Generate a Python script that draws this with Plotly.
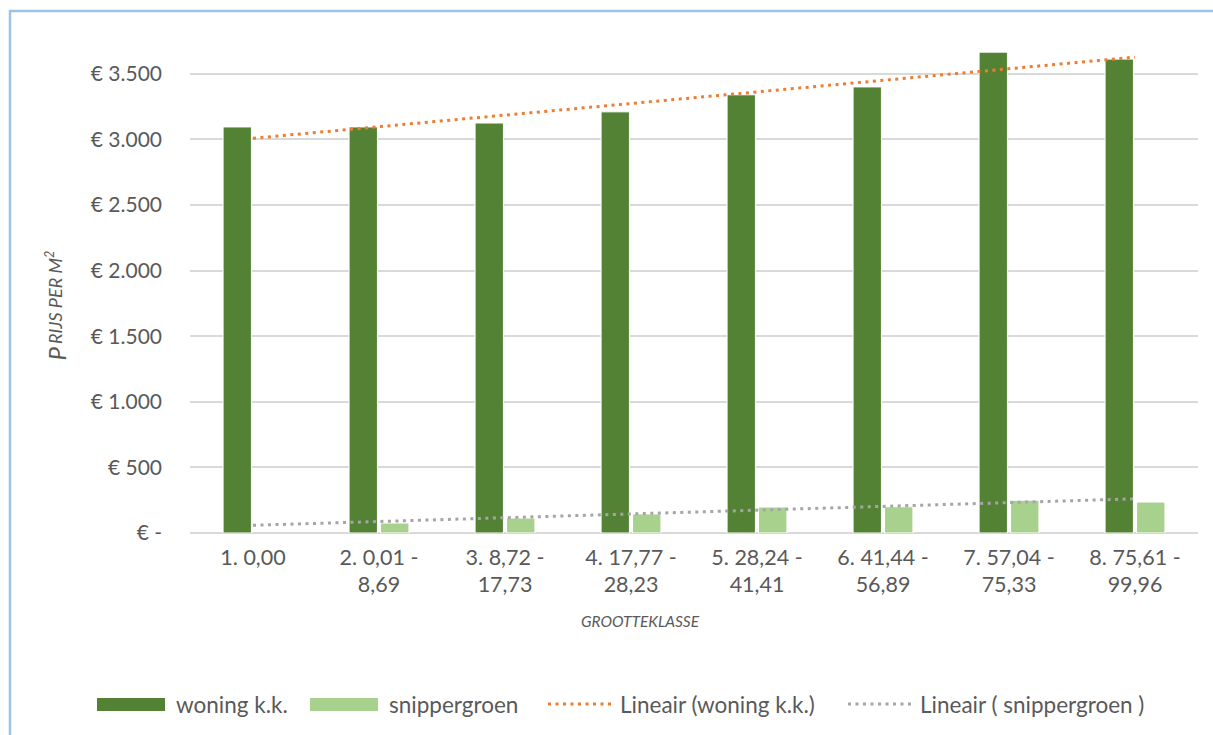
import numpy as np
import plotly.graph_objects as go

# Size classes (grootteklasse) and price per m² per class
categories = [
    "1. 0,00",
    "2. 0,01 -<br>8,69",
    "3. 8,72 -<br>17,73",
    "4. 17,77 -<br>28,23",
    "5. 28,24 -<br>41,41",
    "6. 41,44 -<br>56,89",
    "7. 57,04 -<br>75,33",
    "8. 75,61 -<br>99,96",
]
woning_kk = [3095, 3095, 3125, 3210, 3340, 3400, 3665, 3612]
snippergroen = [None, 76, 114, 145, 198, 200, 250, 236]

tick_values = [0, 500, 1000, 1500, 2000, 2500, 3000, 3500]
tick_labels = ["€ -", "€ 500", "€ 1.000", "€ 1.500", "€ 2.000", "€ 2.500", "€ 3.000", "€ 3.500"]

legend_names = ["woning k.k.", "snippergroen", "Lineair (woning k.k.)", "Lineair ( snippergroen )"]

DARK_GREEN = "#548235"
LIGHT_GREEN = "#A9D18E"
ORANGE = "#ED7D31"
GREY = "#A5A5A5"
TEXT = "#595959"
FONT = "Lato"

W, H = 1213, 735
ML, MR, MT, MB = 190, 15, 41, 202
PW, PH = W - ML - MR, H - MT - MB


def px_x(px):
    return (px - ML) / PW


def px_y(py):
    return (H - MB - py) / PH


def linear_trend(values):
    # least-squares line over the class index (1..n), skipping empty cells
    idx = np.arange(1, len(values) + 1)
    pts = [(i, v) for i, v in zip(idx, values) if v is not None]
    xs, ys = zip(*pts)
    slope, intercept = np.polyfit(xs, ys, 1)
    return list(slope * idx + intercept)


fig = go.Figure()
fig.add_bar(x=categories, y=woning_kk, name=legend_names[0],
            marker=dict(color=DARK_GREEN, line=dict(color="white", width=1)),
            showlegend=False)
fig.add_bar(x=categories, y=snippergroen, name=legend_names[1],
            marker=dict(color=LIGHT_GREEN, line=dict(color="white", width=1)),
            showlegend=False)
fig.add_scatter(x=categories, y=linear_trend(woning_kk), mode="lines",
                name=legend_names[2], showlegend=False,
                line=dict(color=ORANGE, width=3, dash="3px,4.5px"))
fig.add_scatter(x=categories, y=linear_trend(snippergroen), mode="lines",
                name=legend_names[3], showlegend=False,
                line=dict(color=GREY, width=3, dash="3px,4.5px"))

shapes = [
    # chart frame
    dict(type="rect", xref="paper", yref="paper", layer="above",
         x0=px_x(10), x1=px_x(W + 20), y0=px_y(H + 20), y1=px_y(11),
         line=dict(color="#9DC3E6", width=2.5), fillcolor="rgba(0,0,0,0)"),
    # legend symbols
    dict(type="rect", xref="paper", yref="paper", x0=px_x(97), x1=px_x(165),
         y0=px_y(711), y1=px_y(698), fillcolor=DARK_GREEN, line=dict(width=0)),
    dict(type="rect", xref="paper", yref="paper", x0=px_x(310), x1=px_x(378),
         y0=px_y(711), y1=px_y(698), fillcolor=LIGHT_GREEN, line=dict(width=0)),
    dict(type="line", xref="paper", yref="paper", x0=px_x(548), x1=px_x(611),
         y0=px_y(704), y1=px_y(704), line=dict(color=ORANGE, width=3, dash="3px,4.5px")),
    dict(type="line", xref="paper", yref="paper", x0=px_x(848), x1=px_x(911),
         y0=px_y(704), y1=px_y(704), line=dict(color=GREY, width=3, dash="3px,4.5px")),
]

annotations = [
    # y-axis title in small caps: a large initial followed by smaller capitals
    dict(xref="paper", yref="paper", x=px_x(39), y=px_y(354), textangle=-90,
         text="<i>P</i>", showarrow=False,
         font=dict(family=FONT, size=24, color=TEXT)),
    dict(xref="paper", yref="paper", x=px_x(40), y=px_y(298), textangle=-90,
         text="<i>RIJS PER M<sup>2</sup></i>", showarrow=False,
         font=dict(family=FONT, size=18, color=TEXT)),
    dict(xref="paper", yref="paper", x=px_x(640), y=px_y(632),
         text="<i>GROOTTEKLASSE</i>", showarrow=False,
         font=dict(family=FONT, size=15.5, color=TEXT)),
]
for name, lx in zip(legend_names, [174, 387, 618, 918]):
    annotations.append(dict(xref="paper", yref="paper", x=px_x(lx), y=px_y(704),
                            xanchor="left", yanchor="middle", text=name,
                            showarrow=False, font=dict(family=FONT, size=22.5, color=TEXT)))

fig.update_layout(
    width=W, height=H,
    margin=dict(l=ML, r=MR, t=MT, b=MB),
    paper_bgcolor="white", plot_bgcolor="white",
    barmode="group", bargap=0.5, bargroupgap=0.1,
    font=dict(family=FONT, color=TEXT),
    shapes=shapes, annotations=annotations,
    showlegend=False,
)
fig.update_xaxes(showgrid=False, showline=False, ticks="",
                 tickfont=dict(family=FONT, size=21.5, color=TEXT),
                 ticklabelstandoff=9)
fig.update_yaxes(range=[0, 3750], tickvals=tick_values, ticktext=tick_labels,
                 showgrid=True, gridcolor="#D9D9D9", gridwidth=1.5,
                 zeroline=True, zerolinecolor="#D9D9D9", zerolinewidth=1.5,
                 showline=False, ticks="",
                 tickfont=dict(family=FONT, size=21, color=TEXT),
                 ticklabelstandoff=27)

fig.write_html("out.html")
